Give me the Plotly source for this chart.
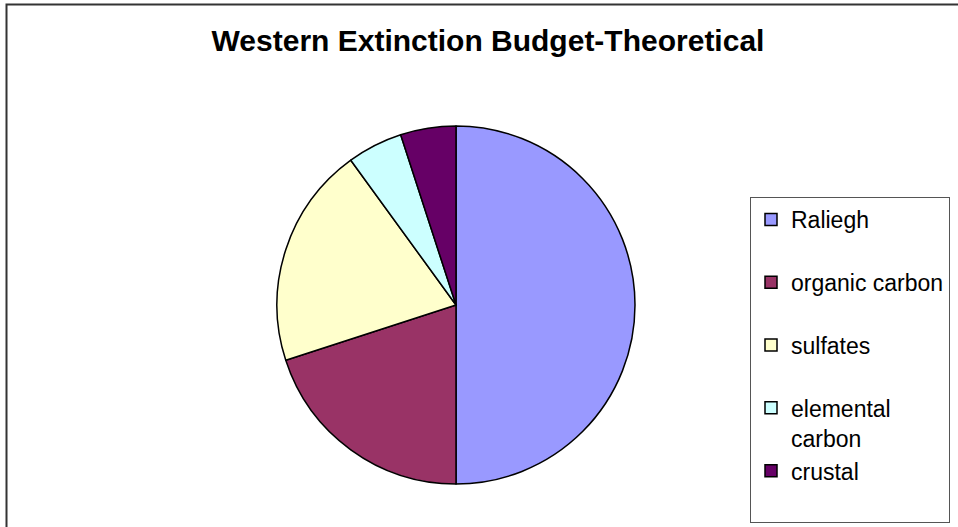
import plotly.graph_objects as go

# Data
labels = ["Raliegh", "organic carbon", "sulfates", "elemental carbon", "crustal"]
values = [50, 20, 20, 5, 5]
colors = ["#9999FF", "#993366", "#FFFFCC", "#CCFFFF", "#660066"]
title_text = "Western Extinction Budget-Theoretical"

# Legend text (wrapped like the original legend; blank second line for even spacing)
wrap = {"elemental carbon": "elemental<br>carbon"}
legend_text = [wrap.get(l, l + "<br> ") for l in labels]

W, H = 958, 527
cx, cy, r = 456, 305, 179

fig = go.Figure(
    go.Pie(
        labels=legend_text,
        values=values,
        sort=False,
        direction="clockwise",
        rotation=0,
        marker=dict(colors=colors, line=dict(color="#000000", width=1.5)),
        textinfo="none",
        hoverinfo="label+percent",
        domain=dict(x=[(cx - r) / W, (cx + r) / W], y=[(H - cy - r) / H, (H - cy + r) / H]),
    )
)

fig.update_layout(
    width=W,
    height=H,
    autosize=False,
    margin=dict(l=0, r=0, t=0, b=0),
    paper_bgcolor="white",
    plot_bgcolor="white",
    font=dict(family="Arial, Liberation Sans, sans-serif", color="#000000"),
    title=dict(
        text="<b>" + title_text + "</b>",
        x=488 / W,
        xanchor="center",
        y=1 - 40 / H,
        yanchor="middle",
        yref="container",
        xref="container",
        font=dict(size=30, family="Arial, Liberation Sans, sans-serif", color="#000000"),
    ),
    legend=dict(
        x=750 / W,
        xanchor="left",
        y=1 - 197 / H,
        yanchor="top",
        bgcolor="white",
        bordercolor="#555555",
        borderwidth=1,
        valign="top",
        font=dict(size=23, family="Arial, Liberation Sans, sans-serif", color="#000000"),
    ),
    shapes=[
        dict(
            type="rect",
            xref="paper",
            yref="paper",
            x0=6.5 / W,
            x1=1.05,
            y0=-0.05,
            y1=1 - 4.5 / H,
            line=dict(color="#333333", width=2),
            fillcolor="rgba(0,0,0,0)",
            layer="below",
        )
    ],
)

fig.write_html(
    "out.html",
    config={"responsive": False, "displayModeBar": False},
    post_script="document.body.style.margin='0';document.body.style.overflow='hidden';",
)
